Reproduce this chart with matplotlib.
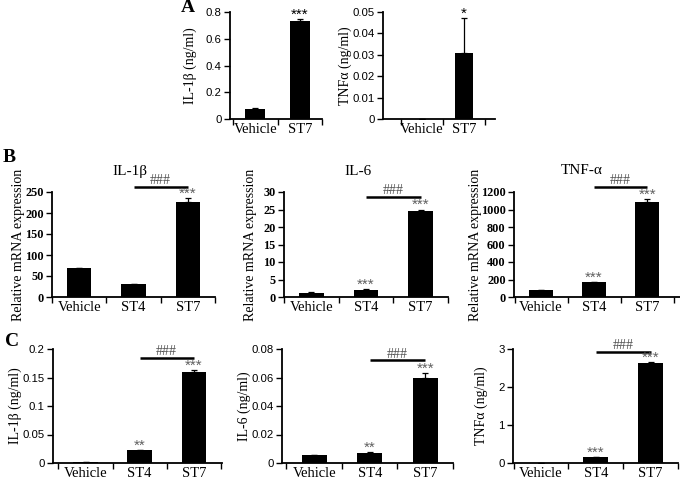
import numpy as np
import matplotlib
matplotlib.use("Agg")
from matplotlib import pyplot as plt
from matplotlib.ticker import FuncFormatter

# ---- data ----
groups_a = ["Vehicle", "ST7"]
groups_bc = ["Vehicle", "ST4", "ST7"]

a_il1b = [0.075, 0.73]
a_il1b_err = [0.008, 0.02]
a_tnfa = [0.0, 0.031]
a_tnfa_err = [0.0, 0.016]

b_il1b = [68, 31, 227]
b_il1b_err = [1, 1, 8]
b_il6 = [1.2, 2.0, 24.7]
b_il6_err = [0.1, 0.2, 0.3]
b_tnfa = [75, 170, 1090]
b_tnfa_err = [3, 5, 30]

c_il1b = [0.002, 0.022, 0.160]
c_il1b_err = [0.0005, 0.001, 0.004]
c_il6 = [0.0055, 0.0072, 0.060]
c_il6_err = [0.0002, 0.0006, 0.003]
c_tnfa = [0.0, 0.15, 2.62]
c_tnfa_err = [0.0, 0.01, 0.04]

stars_a1 = ["", "***"]
stars_a2 = ["", "*"]
stars_b1 = ["", "", "***"]
stars_b2 = ["", "***", "***"]
stars_b3 = ["", "***", "***"]
stars_c1 = ["", "**", "***"]
stars_c2 = ["", "**", "***"]
stars_c3 = ["", "***", "***"]

W, H = 680, 484
SERIF = "Liberation Serif"
SANS = "Liberation Sans"

fig = plt.figure(figsize=(W / 100, H / 100), dpi=100)


def add_ax(x0, x1, y0, y1):
    return fig.add_axes([x0 / W, 1 - y1 / H, (x1 - x0) / W, (y1 - y0) / H])


def fmt(v, pos):
    return "%g" % v


def panel(box, xlim, groups, vals, errs, stars, ymax, ystep, ylabel,
          ylabel_x, tick_font, tick_bold=False, star_color="#606060",
          title=None, title_xy=None, hash_y=None):
    ax = add_ax(*box)
    x = np.arange(len(groups))
    ax.bar(x, vals, width=0.45, color="black", zorder=2)
    ax.errorbar(x, vals, yerr=[np.zeros(len(vals)), errs], fmt="none",
                ecolor="black", elinewidth=0.9, capsize=2.2, capthick=0.9, zorder=3)
    for xi, v, e, s in zip(x, vals, errs, stars):
        if s:
            ax.annotate(s, (xi, v + e), xytext=(0, -2), textcoords="offset points",
                        ha="center", va="bottom", fontsize=11, color=star_color,
                        family=SANS, annotation_clip=False)
    ax.set_xlim(*xlim)
    ax.set_ylim(0, ymax)
    ax.set_yticks(np.arange(0, ymax + ystep / 2, ystep))
    ax.yaxis.set_major_formatter(FuncFormatter(fmt))
    ax.set_xticks(x)
    ax.set_xticklabels(groups, family=SERIF, fontsize=10.5)
    ax.set_xticks(np.arange(-0.5, len(groups)), minor=True)
    ax.tick_params(axis="x", which="major", length=0, pad=3)
    ax.tick_params(axis="x", which="minor", length=4, width=1, direction="out")
    ax.tick_params(axis="y", length=4, width=1, direction="out", pad=2)
    for lab in ax.get_yticklabels():
        lab.set_family(tick_font)
        lab.set_fontsize(8.2 if not tick_bold else 8.8)
        if tick_bold:
            lab.set_fontweight("bold")
    for sp in ["top", "right"]:
        ax.spines[sp].set_visible(False)
    for sp in ["left", "bottom"]:
        ax.spines[sp].set_linewidth(1.3)
    ax.set_ylabel(ylabel, family=SERIF, fontsize=10)
    ax.yaxis.set_label_coords((ylabel_x - box[0]) / (box[1] - box[0]), 0.5)
    if title:
        fig.text(title_xy[0] / W, 1 - title_xy[1] / H, title,
                 family=SERIF, fontsize=11, ha="center", va="center")
    if hash_y is not None:
        ax.plot([1, 2], [hash_y, hash_y], color="black", lw=1.8, clip_on=False,
                solid_capstyle="butt")
        ax.annotate("###", (1.5, hash_y), xytext=(0, 2), textcoords="offset points",
                    ha="center", va="baseline", fontsize=10, color="#505050",
                    family=SERIF, annotation_clip=False)
    return ax


# row A
panel((230, 322, 12, 119), (-0.57, 1.45), groups_a, a_il1b, a_il1b_err, stars_a1,
      0.8, 0.2, "IL-1β (ng/ml)", 197, SANS, star_color="black")
panel((383, 495, 12, 119), (-0.93, 1.74), groups_a, a_tnfa, a_tnfa_err, stars_a2,
      0.05, 0.01, "TNFα (ng/ml)", 352, SANS, star_color="black")

# row B
panel((52, 215, 192, 297), (-0.47, 2.45), groups_bc, b_il1b, b_il1b_err, stars_b1,
      250, 50, "Relative mRNA expression", 25, SERIF, tick_bold=True,
      title="IL-1β", title_xy=(130, 172), hash_y=262)
panel((284, 448, 192, 297), (-0.47, 2.47), groups_bc, b_il6, b_il6_err, stars_b2,
      30, 5, "Relative mRNA expression", 257, SERIF, tick_bold=True,
      title="IL-6", title_xy=(358, 172), hash_y=28.6)
panel((514, 680, 192, 297), (-0.51, 2.62), groups_bc, b_tnfa, b_tnfa_err, stars_b3,
      1200, 200, "Relative mRNA expression", 482, SERIF, tick_bold=True,
      title="TNF-α", title_xy=(582, 170), hash_y=1257)

# row C
panel((53, 222, 349, 463), (-0.6, 2.52), groups_bc, c_il1b, c_il1b_err, stars_c1,
      0.2, 0.05, "IL-1β (ng/ml)", 22, SANS, hash_y=0.184)
panel((282, 453, 349, 463), (-0.58, 2.42), groups_bc, c_il6, c_il6_err, stars_c2,
      0.08, 0.02, "IL-6 (ng/ml)", 251, SANS, hash_y=0.072)
panel((513, 678, 349, 463), (-0.51, 2.49), groups_bc, c_tnfa, c_tnfa_err, stars_c3,
      3, 1, "TNFα (ng/ml)", 488, SANS, hash_y=2.92)

# panel letters
fig.text(181 / W, 1 - 8 / H, "A", family=SERIF, fontweight="bold", fontsize=14,
         ha="left", va="center")
fig.text(3 / W, 1 - 157 / H, "B", family=SERIF, fontweight="bold", fontsize=14,
         ha="left", va="center")
fig.text(5 / W, 1 - 341 / H, "C", family=SERIF, fontweight="bold", fontsize=14,
         ha="left", va="center")

fig.savefig("out.png", dpi=100)
